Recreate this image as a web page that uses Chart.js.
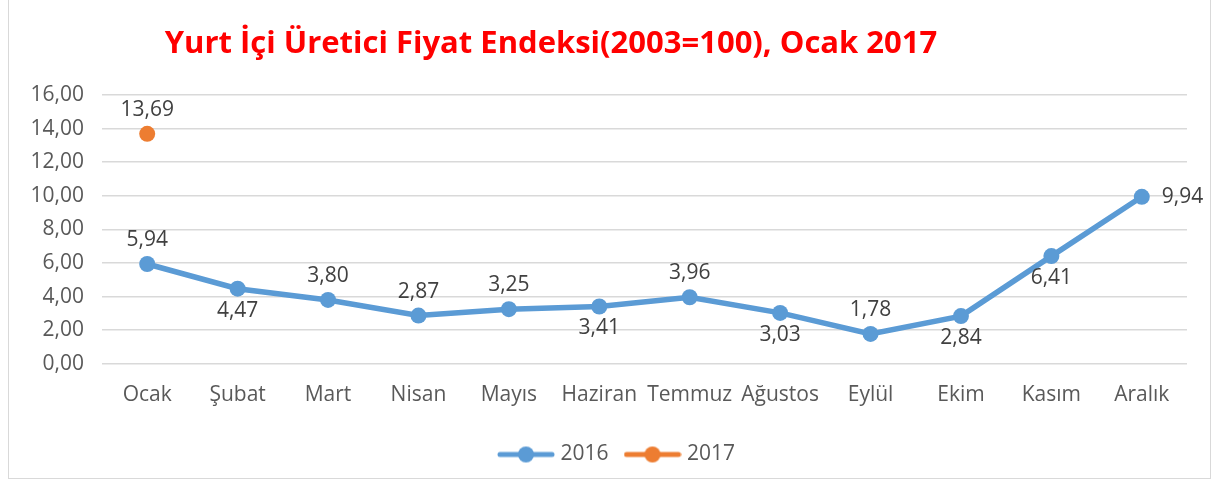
<!DOCTYPE html>
<html>
<head>
<meta charset="utf-8">
<script src="https://cdn.jsdelivr.net/npm/chart.js@4"></script>
<style>
  html, body { margin: 0; padding: 0; background: #fff; }
  #wrap { width: 1217px; height: 486px; }
</style>
</head>
<body>
<div id="wrap"><canvas id="ufeChart" width="1217" height="486"></canvas></div>
<script>
// Chart data
const months = ["Ocak", "Şubat", "Mart", "Nisan", "Mayıs", "Haziran",
  "Temmuz", "Ağustos", "Eylül", "Ekim", "Kasım", "Aralık"];
const values2016 = [5.94, 4.47, 3.80, 2.87, 3.25, 3.41, 3.96, 3.03, 1.78, 2.84, 6.41, 9.94];
const values2017 = [13.69, null, null, null, null, null, null, null, null, null, null, null];
const yTicks = [0, 2, 4, 6, 8, 10, 12, 14, 16];
const chartTitle = "Yurt İçi Üretici Fiyat Endeksi(2003=100), Ocak 2017";

// where each value label sits relative to its point
const labelSide2016 = ["top", "bottom", "top", "top", "top", "bottom",
  "top", "bottom", "top", "bottom", "bottom", "right"];
const labelSide2017 = ["top"];

const FONT = "'Open Sans', sans-serif";
const fmt = v => v.toFixed(2).replace(".", ",");

// legend marker: short line with a dot in the middle
function legendMarker(color) {
  const c = document.createElement("canvas");
  c.width = 58; c.height = 18;
  const g = c.getContext("2d");
  g.strokeStyle = color;
  g.lineWidth = 5;
  g.lineCap = "round";
  g.beginPath(); g.moveTo(3, 9); g.lineTo(55, 9); g.stroke();
  g.fillStyle = color;
  g.beginPath(); g.arc(29, 9, 8, 0, Math.PI * 2); g.fill();
  return c;
}

const framePlugin = {
  id: "frame",
  afterLayout(chart) {
    // excel puts the legend a bit right of the canvas centre
    chart.legend.left += 21;
    chart.legend.right += 21;
    chart.legend.top += 5;
    chart.legend.bottom += 5;
  },
  beforeDraw(chart) {
    const c = chart.ctx;
    c.save();
    c.strokeStyle = "#d9d9d9";
    c.lineWidth = 1;
    c.strokeRect(8.5, -1, 1202, 479.5);
    c.fillStyle = "#ff0000";
    c.font = "bold 31px " + FONT;
    c.textAlign = "center";
    c.textBaseline = "middle";
    c.fillText(chartTitle, 551, 44);
    c.restore();
  }
};

const valueLabels = {
  id: "valueLabels",
  afterDatasetsDraw(chart) {
    const c = chart.ctx;
    const sides = [labelSide2016, labelSide2017];
    c.save();
    c.font = "21px " + FONT;
    c.fillStyle = "#404040";
    c.textBaseline = "middle";
    chart.data.datasets.forEach((ds, i) => {
      const meta = chart.getDatasetMeta(i);
      meta.data.forEach((pt, j) => {
        const v = ds.data[j];
        if (v === null || v === undefined) return;
        const side = sides[i][j] || "top";
        let x = pt.x, y = pt.y;
        c.textAlign = "center";
        if (side === "top") y -= 24;
        else if (side === "bottom") y += 22;
        else if (side === "right") { x += 20; c.textAlign = "left"; }
        c.fillText(fmt(v), x, y);
      });
    });
    c.restore();
  }
};

const ctx = document.getElementById("ufeChart").getContext("2d");
const ufeChart = new Chart(ctx, {
  type: "line",
  data: {
    labels: months,
    datasets: [
      {
        label: "2016",
        data: values2016,
        borderColor: "#5b9bd5",
        backgroundColor: "#5b9bd5",
        borderWidth: 5.5,
        pointRadius: 8,
        pointHoverRadius: 8,
        pointBorderWidth: 0,
        tension: 0
      },
      {
        label: "2017",
        data: values2017,
        borderColor: "#ed7d31",
        backgroundColor: "#ed7d31",
        borderWidth: 5.5,
        pointRadius: 8,
        pointHoverRadius: 8,
        pointBorderWidth: 0,
        spanGaps: false
      }
    ]
  },
  options: {
    responsive: false,
    animation: false,
    layout: { padding: { left: 8, right: 30, top: 95, bottom: 16 } },
    plugins: {
      title: { display: false },
      tooltip: { enabled: false },
      legend: {
        position: "bottom",
        labels: {
          usePointStyle: true,
          pointStyleWidth: 48,
          boxHeight: 18,
          padding: 20,
          color: "#595959",
          font: { family: FONT, size: 21 },
          generateLabels(chart) {
            const items = Chart.defaults.plugins.legend.labels.generateLabels(chart);
            items.forEach(it => {
              it.pointStyle = legendMarker(chart.data.datasets[it.datasetIndex].borderColor);
            });
            return items;
          }
        }
      }
    },
    scales: {
      x: {
        offset: true,
        grid: { display: false },
        border: { display: false },
        ticks: {
          color: "#595959",
          font: { family: FONT, size: 21 },
          padding: 11,
          maxRotation: 0,
          minRotation: 0,
          autoSkip: false
        }
      },
      y: {
        min: 0,
        max: 16,
        afterBuildTicks(scale) { scale.ticks = yTicks.map(v => ({ value: v })); },
        afterFit(scale) { scale.width = 94; },
        grid: { color: "#d9d9d9", lineWidth: 1.5, drawTicks: false },
        border: { display: false },
        ticks: {
          color: "#595959",
          padding: 18,
          font: { family: FONT, size: 21 },
          callback: v => fmt(v)
        }
      }
    }
  },
  plugins: [framePlugin, valueLabels]
});
</script>
</body>
</html>
